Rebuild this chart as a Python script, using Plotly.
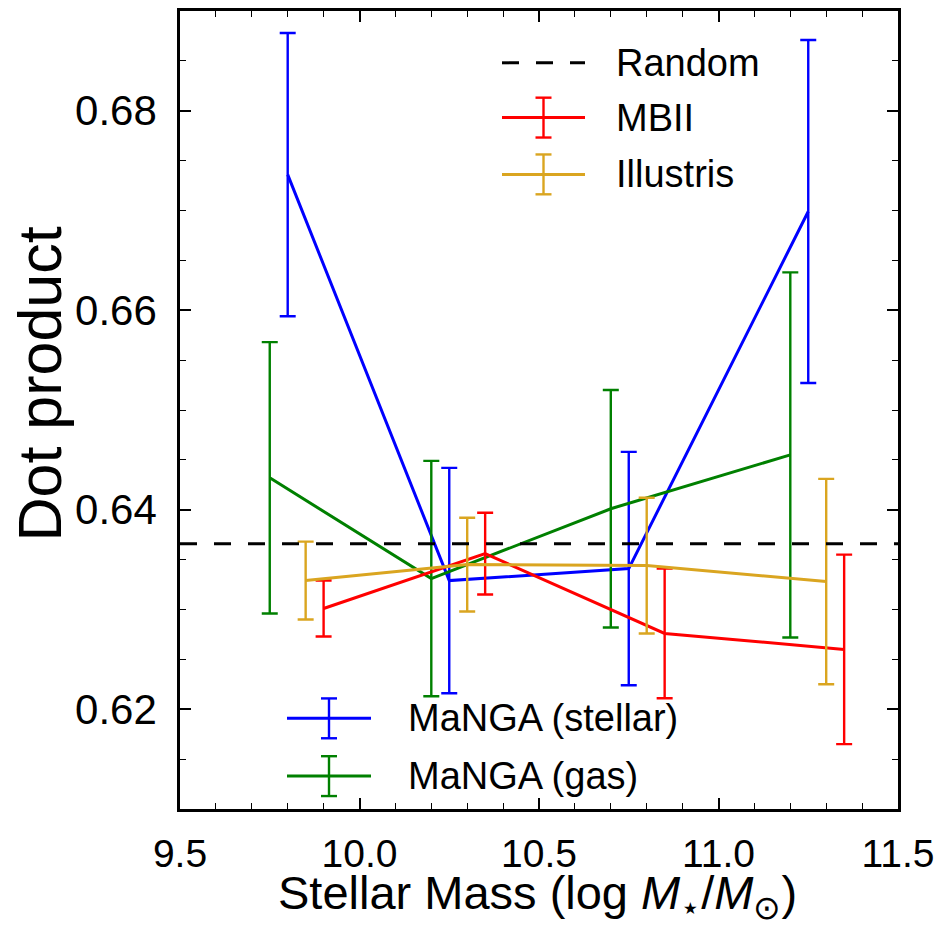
import plotly.graph_objects as go

# Stellar mass bins (log M*/Msun) for each sample
x_stellar = [9.8, 10.25, 10.75, 11.25]
x_gas = [9.75, 10.2, 10.7, 11.2]
x_mbii = [9.9, 10.35, 10.85, 11.35]
x_illustris = [9.85, 10.3, 10.8, 11.3]

# Mean dot product and 1-sigma errors
y_stellar = [0.6736, 0.6329, 0.6341, 0.6699]
e_stellar = [0.0142, 0.0113, 0.0117, 0.0172]
y_gas = [0.6432, 0.6331, 0.6401, 0.6455]
e_gas = [0.0136, 0.0118, 0.0119, 0.0183]
y_mbii = [0.6301, 0.6356, 0.6276, 0.6260]
e_mbii = [0.0028, 0.0041, 0.0065, 0.0095]
y_illustris = [0.6329, 0.6345, 0.6344, 0.6328]
e_illustris = [0.0039, 0.0047, 0.0068, 0.0103]

random_level = 0.6366

FONT = "Liberation Sans, Arial, sans-serif"
BLUE, GREEN, RED, GOLD = "#0000ff", "#008000", "#ff0000", "#daa520"
LW, EW = 3, 2.4

series = [
    ("MaNGA (stellar)", x_stellar, y_stellar, e_stellar, BLUE),
    ("MaNGA (gas)", x_gas, y_gas, e_gas, GREEN),
    ("MBII", x_mbii, y_mbii, e_mbii, RED),
    ("Illustris", x_illustris, y_illustris, e_illustris, GOLD),
]

fig = go.Figure()
for name, xs, ys, es, col in series:
    fig.add_trace(go.Scatter(
        x=xs, y=ys, name=name, mode="lines",
        line=dict(color=col, width=LW),
        error_y=dict(type="data", array=es, visible=True,
                     color=col, thickness=EW, width=8),
        showlegend=False,
    ))

fig.add_hline(y=random_level, line=dict(color="black", width=LW, dash="17px,17px"))

# Hand-built legend boxes (line + error-bar glyph + label)
L, R, T, B = 180, 898, 8, 809


def px(xp):
    return (xp - L) / (R - L)


def py(yp):
    return (B - yp) / (B - T)


def legend_entry(x0, x1, yc, col, label, tx, dashed=False, errbar=True):
    fig.add_shape(type="line", xref="paper", yref="paper",
                  x0=px(x0), x1=px(x1), y0=py(yc), y1=py(yc),
                  line=dict(color=col, width=LW,
                            dash="17px,17px" if dashed else "solid"))
    if errbar:
        xm = (x0 + x1) / 2
        fig.add_shape(type="line", xref="paper", yref="paper",
                      x0=px(xm), x1=px(xm), y0=py(yc - 20), y1=py(yc + 20),
                      line=dict(color=col, width=EW))
        for yy in (yc - 20, yc + 20):
            fig.add_shape(type="line", xref="paper", yref="paper",
                          x0=px(xm - 8), x1=px(xm + 8), y0=py(yy), y1=py(yy),
                          line=dict(color=col, width=EW))
    fig.add_annotation(xref="paper", yref="paper", x=px(tx), y=py(yc),
                       text=label, showarrow=False, xanchor="left",
                       yanchor="middle",
                       font=dict(family=FONT, size=38, color="black"))


legend_entry(502, 585, 60, "black", "Random", 614, dashed=True, errbar=False)
legend_entry(502, 585, 115, RED, "MBII", 614)
legend_entry(502, 585, 172, GOLD, "Illustris", 614)
legend_entry(287, 371, 718, BLUE, "MaNGA (stellar)", 406)
legend_entry(287, 371, 776, GREEN, "MaNGA (gas)", 406)

# Axis titles
fig.add_annotation(xref="paper", yref="paper", x=px(537), y=py(928),
                   text="Stellar Mass (log <i>M</i><sub>⋆</sub>/<i>M</i><sub>⊙</sub>)",
                   showarrow=False, xanchor="center", yanchor="bottom",
                   font=dict(family=FONT, size=47, color="black"))
fig.add_annotation(xref="paper", yref="paper", x=px(40), y=py(383),
                   text="Dot product", textangle=-90,
                   showarrow=False, xanchor="center", yanchor="middle",
                   font=dict(family=FONT, size=61, color="black"))

axis_common = dict(
    showline=True, linecolor="black", linewidth=2.5, mirror="allticks",
    ticks="inside", ticklen=11, tickwidth=1.5, tickcolor="black",
    showgrid=False, zeroline=False,
)

fig.update_xaxes(
    range=[9.5, 11.5], dtick=0.5, tick0=9.5, tickformat=".1f",
    minor=dict(ticks="inside", ticklen=6, tickwidth=1.2, dtick=0.1,
               tickcolor="black", showgrid=False),
    ticklabelstandoff=8,
    tickfont=dict(family=FONT, size=39, color="black"),
    **axis_common,
)
fig.update_yaxes(
    range=[0.61, 0.69], dtick=0.02, tick0=0.62, tickformat=".2f",
    minor=dict(ticks="inside", ticklen=6, tickwidth=1.2, dtick=0.005,
               tickcolor="black", showgrid=False),
    ticklabelstandoff=12,
    tickfont=dict(family=FONT, size=42, color="black"),
    **axis_common,
)

fig.update_layout(
    width=945, height=928,
    margin=dict(l=L, r=945 - R, t=T, b=928 - B),
    plot_bgcolor="white", paper_bgcolor="white",
    showlegend=False,
)

fig.write_html("out.html")
